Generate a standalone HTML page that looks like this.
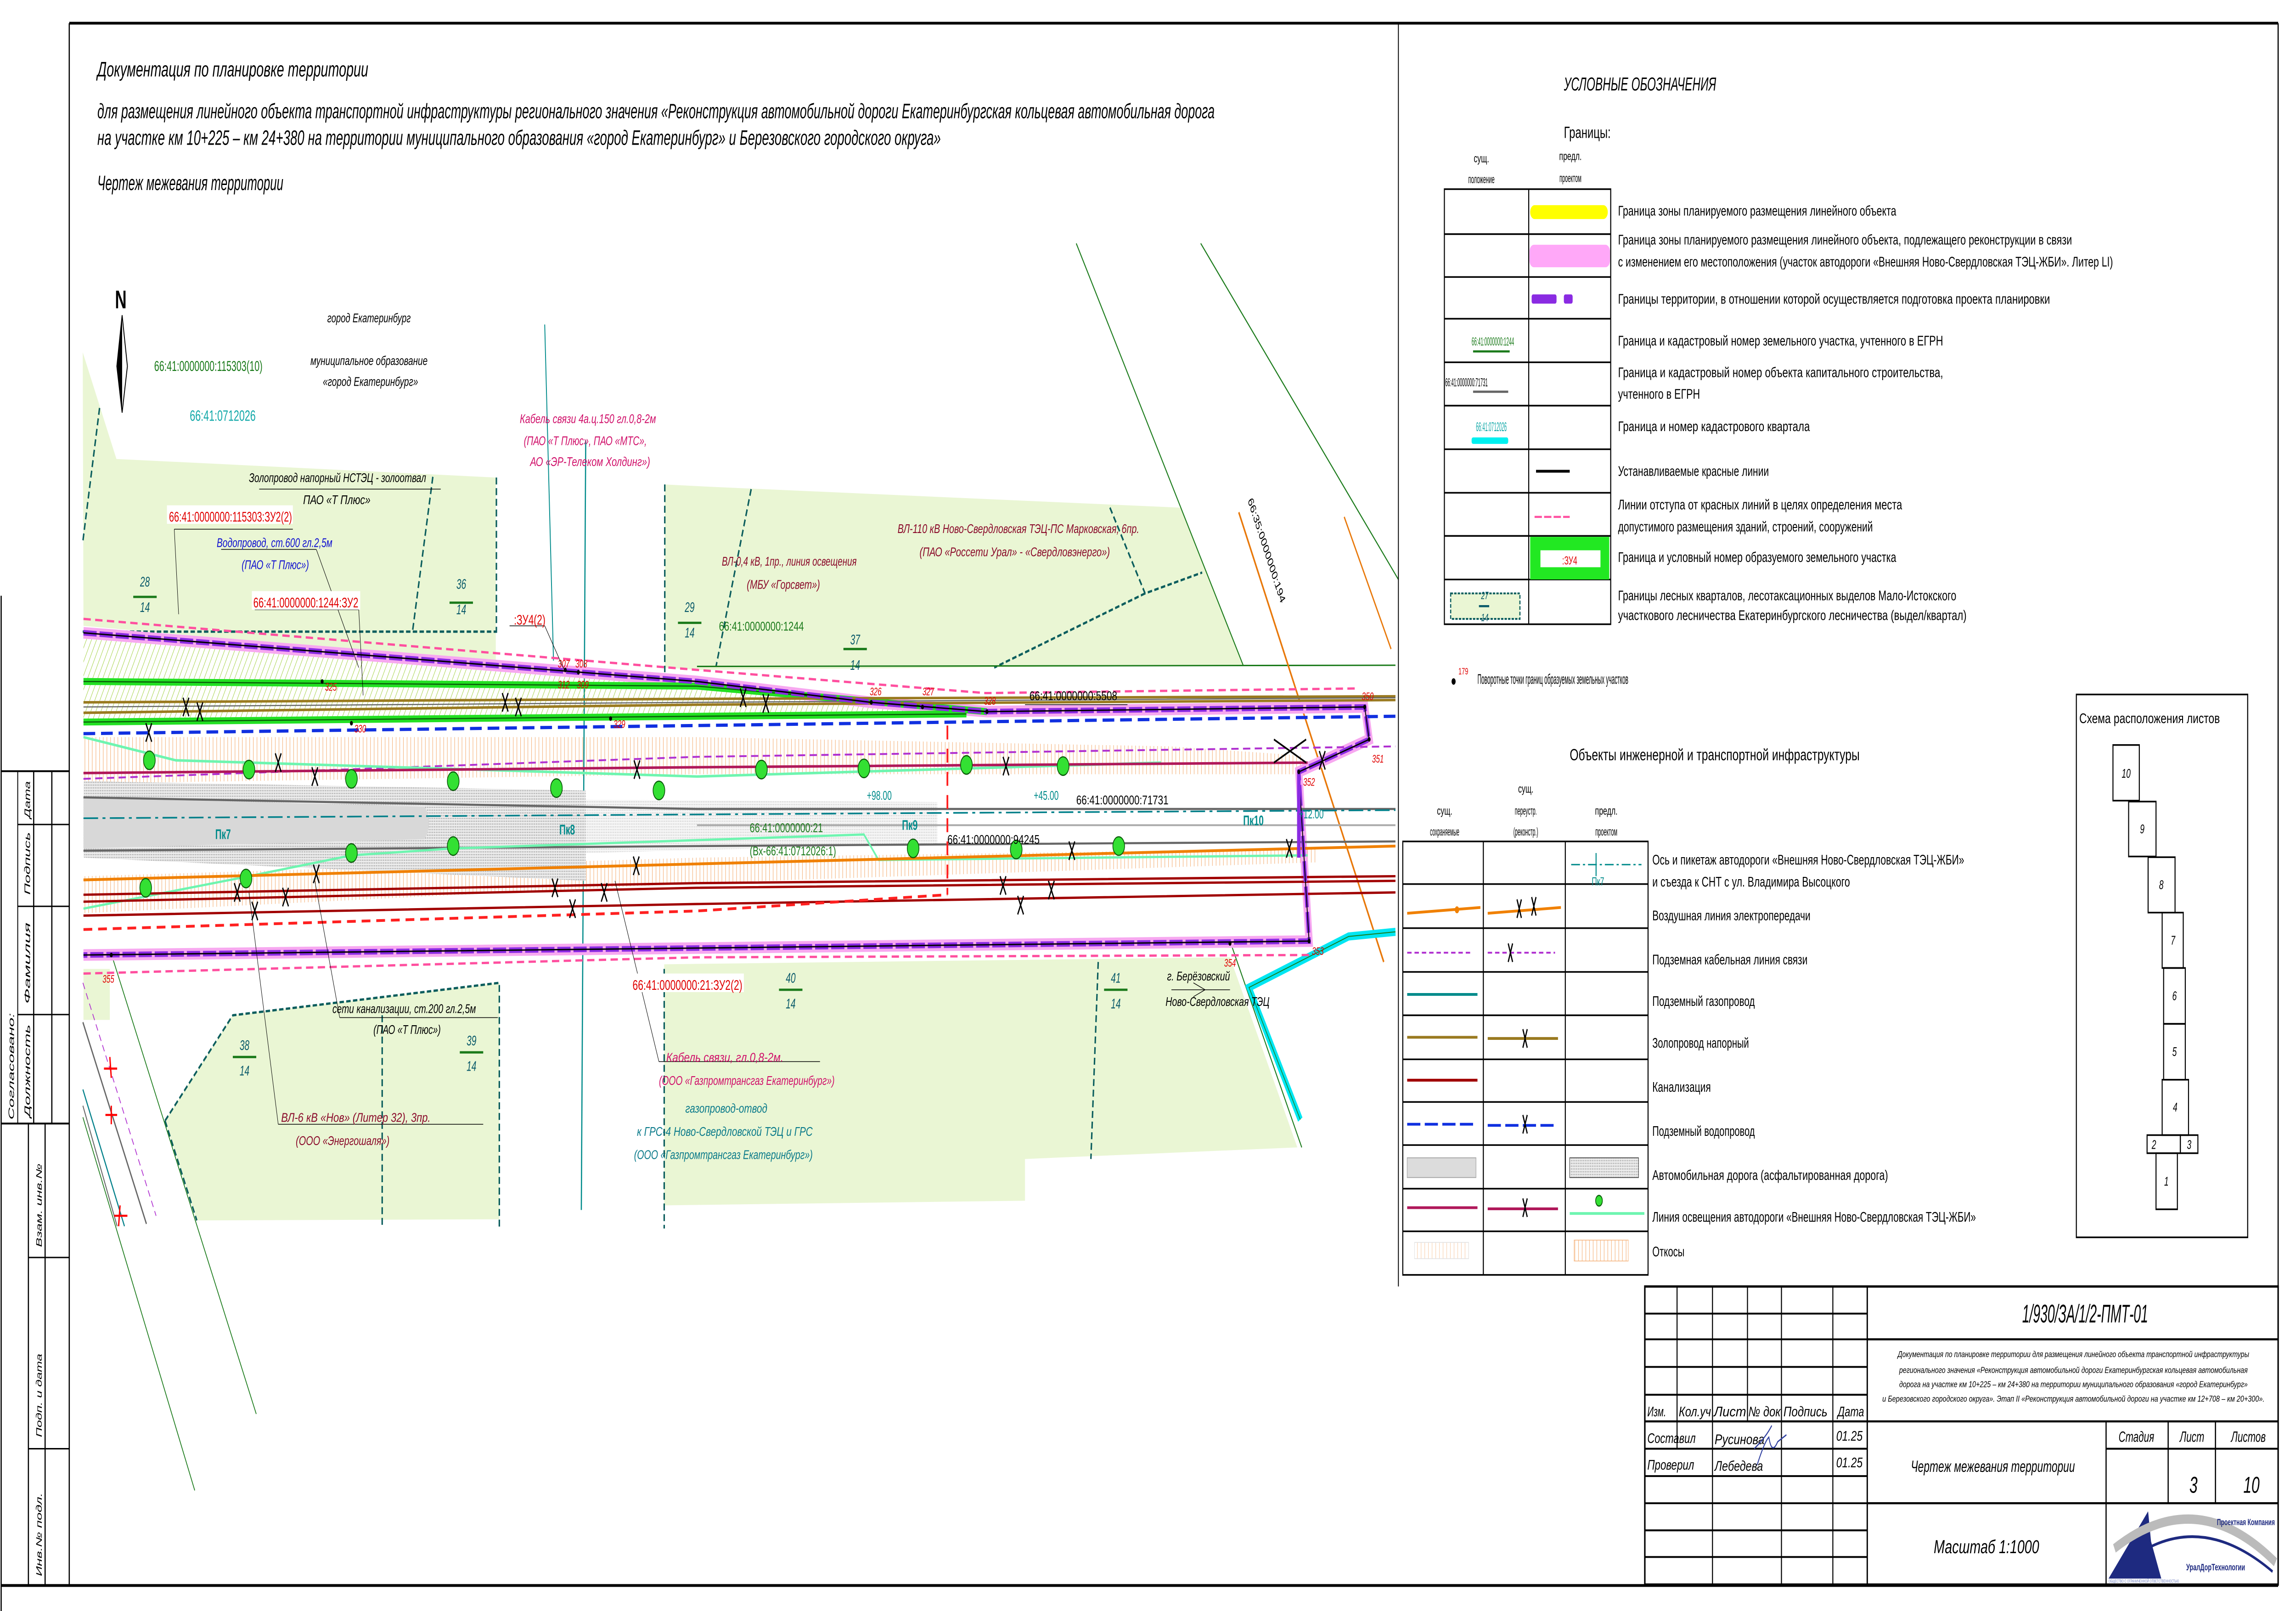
<!DOCTYPE html>
<html><head><meta charset="utf-8"><style>
html,body{margin:0;padding:0;background:#fff;width:100vw;height:100vh;overflow:hidden}
svg{display:block;width:100vw;height:100vh;position:absolute;left:0;top:0}
text{font-family:"Liberation Sans","DejaVu Sans",sans-serif;font-style:italic}
.n{font-style:normal}
</style></head><body>
<svg viewBox="0 0 1568 695" preserveAspectRatio="none" xmlns="http://www.w3.org/2000/svg">
<defs>
<pattern id="hat" width="3" height="3" patternUnits="userSpaceOnUse" patternTransform="rotate(30)"><line x1="0" y1="0" x2="0" y2="3" stroke="#9acd32" stroke-width="0.5"/></pattern>
<pattern id="dot" width="1.2" height="1.2" patternUnits="userSpaceOnUse"><rect width="1.2" height="1.2" fill="#eee"/><rect width="0.6" height="0.6" fill="#aaa"/></pattern>
<pattern id="slope" width="2.5" height="20" patternUnits="userSpaceOnUse"><line x1="0.5" y1="0" x2="0.5" y2="20" stroke="#f5b27a" stroke-width="0.35"/></pattern>
</defs>
<rect width="1568" height="695" fill="#fff"/>

<g fill="#eaf6d4">
<polygon points="56.5,152 79.5,198 338.6,206 338.6,286 57,270"/>
<polygon points="454,209 485,210 806,219 849,287 476,289 454,288"/>
<polygon points="112.7,483.5 159,438 341,424 341,526 134.4,526.5"/>
<polygon points="453.6,416 840,413 886,495 700,500 700,518 453.6,520"/>
<polygon points="57,418 75,418 75,440 57,440"/>
</g>
<g fill="none" stroke="#0b5d5d" stroke-width="1" stroke-dasharray="3 1.6">
<polyline points="68,176 56.5,234"/>
<polyline points="295.6,205.7 281.6,273"/>
<polyline points="56.5,272.5 339,272.5"/>
<polyline points="339,206 339,273"/>
<polyline points="454,209 454,290"/>
<polyline points="513,211 489,287.5"/>
<polyline points="758,219 782,256 821,247"/>
<polyline points="782,256 679,288"/>
<polyline points="112.7,483.5 159,438 341,424 341,530"/>
<polyline points="112.7,483.5 134.4,526.5"/>
<polyline points="261,438 261,530"/>
<polyline points="453.6,418 453.6,530"/>
<polyline points="750,415 745,500"/>
</g>

<g fill="none">
<line x1="735" y1="105" x2="849" y2="287" stroke="#1a7a1a" stroke-width="0.6"/>
<line x1="820" y1="105" x2="955" y2="250" stroke="#1a7a1a" stroke-width="0.6"/>
<line x1="476" y1="287.5" x2="953" y2="287" stroke="#1a7a1a" stroke-width="0.6"/>
<line x1="846" y1="221" x2="945" y2="415" stroke="#e8780a" stroke-width="1"/>
<line x1="918" y1="223" x2="950" y2="280" stroke="#e8780a" stroke-width="0.8"/>
<line x1="840" y1="406" x2="889" y2="495" stroke="#1a7a1a" stroke-width="0.6"/>
<polyline points="888,483 853,426 921,404 953,402" stroke="#00e6f2" stroke-width="3.5"/>
<polyline points="888,483 853,426 921,404 953,402" stroke="#1a7a1a" stroke-width="0.4"/>
<line x1="400" y1="190" x2="397" y2="522" stroke="#008b8b" stroke-width="0.8"/>
<line x1="372" y1="140" x2="378" y2="285" stroke="#008b8b" stroke-width="0.6"/>
</g>
<text x="852" y="216" font-size="5.5" fill="#000" class="n" transform="rotate(63 852 216)" textLength="50" lengthAdjust="spacingAndGlyphs">66:35:0000000:194</text>

<g fill="none">
<line x1="56.6" y1="441" x2="100" y2="528" stroke="#666" stroke-width="0.8"/>
<line x1="56.6" y1="470" x2="85" y2="529" stroke="#00808a" stroke-width="0.7"/>
<line x1="56.6" y1="477" x2="80" y2="529" stroke="#666" stroke-width="0.6"/>
<line x1="56.6" y1="482" x2="133" y2="643" stroke="#1a7a1a" stroke-width="0.5"/>
<line x1="77" y1="413.5" x2="175" y2="610" stroke="#1a7a1a" stroke-width="0.5"/>
<line x1="56.6" y1="424" x2="106.6" y2="524.5" stroke="#b030d0" stroke-width="0.5" stroke-dasharray="3 2"/>
<g stroke="#f00" stroke-width="0.9"><path d="M71,461h9M75,456l1,9M72,481h8M76,477l0,8M78,524.5h9M82,520l-1,9"/></g>
</g>

<polygon points="57,273 476,294 674,307 476,309 57,312" fill="url(#hat)"/>
<polygon points="57,318 476,318 800,322 890,326 890,334 476,334 57,338" fill="url(#slope)"/>
<polygon points="57,378 476,370 900,366 900,372 476,381 57,394" fill="url(#slope)"/>
<polygon points="57,337 400,341 400,380 57,370" fill="url(#dot)"/>
<path d="M57,344 L290,348 Q296,355 290,362 L57,366Z" fill="#d8d8d8"/>
<polygon points="400,345 640,346 640,364 400,368" fill="url(#dot)" opacity="0.5"/>
<g fill="none">
<polyline points="57,267 476,289 673,299 928,297" stroke="#ff4f9f" stroke-width="1" stroke-dasharray="5 3"/>
<polyline points="57,420 476,413 894,412" stroke="#ff4f9f" stroke-width="1" stroke-dasharray="5 3"/>
<polyline points="57,273 476,294 595,303 674,307 932,305 935,319 887,333 894,406 476,409 57,412" stroke="#f7a8f0" stroke-width="5"/>
<polyline points="57,294 476,296 674,307" stroke="#22e022" stroke-width="3"/>
<polyline points="57,311.5 476,309 660,308" stroke="#22e022" stroke-width="3"/>
<polyline points="57,294 476,296 674,307" stroke="#0a5a0a" stroke-width="0.5"/>
<polyline points="57,311.5 476,309 660,308" stroke="#0a5a0a" stroke-width="0.5"/>
<polyline points="57,303 476,301.5 953,300.4" stroke="#9a7a20" stroke-width="1.1"/>
<polyline points="57,307.5 476,304 953,302" stroke="#9a7a20" stroke-width="1.1"/>
<polyline points="57,305 476,303 953,301" stroke="#666" stroke-width="0.5"/>
<polyline points="57,316.5 476,313 953,309" stroke="#1030e0" stroke-width="1.4" stroke-dasharray="8 4"/>
<polyline points="57,336 476,326.5 953,322" stroke="#b030d0" stroke-width="0.8" stroke-dasharray="5 3"/>
<polyline points="57,318 120,328 476,335 793,329" stroke="#6ef5b0" stroke-width="1.1"/>
<polyline points="57,333.5 476,331 893,329" stroke="#b0185a" stroke-width="1.1"/>
<polyline points="57,344 476,349 953,349" stroke="#666" stroke-width="0.9"/>
<polyline points="476,356 953,356" stroke="#aaa" stroke-width="0.8"/>
<polyline points="57,367 476,365 953,363" stroke="#666" stroke-width="0.9"/>
<polyline points="57,353 953,349.5" stroke="#00808a" stroke-width="0.7" stroke-dasharray="10 3 2 3"/>
<polyline points="57,392 170,378 240,369 310,366 590,360 600,371 893,369" stroke="#6ef5b0" stroke-width="1"/>
<polyline points="57,379.6 476,372.7 953,365" stroke="#f08000" stroke-width="1.2"/>
<polyline points="57,386 476,381 953,378" stroke="#a00000" stroke-width="1"/>
<polyline points="57,389 476,383 953,380" stroke="#a00000" stroke-width="1"/>
<polyline points="57,395 476,390 953,385" stroke="#a00000" stroke-width="1"/>
<polyline points="57,401 476,393 647,386" stroke="#ff2020" stroke-width="1.2" stroke-dasharray="6 4"/>
<line x1="647" y1="313" x2="647" y2="386" stroke="#ff2020" stroke-width="1.2" stroke-dasharray="6 4"/>
<polyline points="57,273 476,294 595,303 674,307 932,305 935,319 887,333 894,406 476,409 57,412" stroke="#8a2be2" stroke-width="2.4" stroke-dasharray="9 2"/>
<polyline points="57,273 476,294 595,303 674,307 932,305 935,319 887,333 894,406 476,409 57,412" stroke="#000" stroke-width="0.6"/>
<line x1="887" y1="333" x2="887" y2="370" stroke="#8a2be2" stroke-width="2.4"/>
</g>
<g fill="#000"><circle cx="220" cy="294" r="1"/><circle cx="240" cy="312" r="1"/><circle cx="417" cy="310" r="1"/><circle cx="386" cy="289" r="1"/><circle cx="395" cy="290" r="1"/><circle cx="595" cy="303" r="1"/><circle cx="630" cy="305" r="1"/><circle cx="674" cy="307" r="1"/><circle cx="932" cy="305" r="1"/><circle cx="935" cy="319" r="1"/><circle cx="887" cy="333" r="1"/><circle cx="894" cy="406" r="1"/><circle cx="840" cy="407" r="1"/><circle cx="76" cy="412" r="1"/></g>
<g fill="#e00000" font-size="4.8" class="n">
<text x="222" y="298">325</text><text x="242" y="316">330</text><text x="419" y="314">329</text>
<text x="381" y="288">307</text><text x="393" y="288">308</text><text x="381" y="297">312</text><text x="394" y="297">309</text>
<text x="594" y="300">326</text><text x="630" y="300">327</text><text x="672" y="304">328</text>
<text x="930" y="302">350</text><text x="937" y="329">351</text><text x="890" y="339">352</text>
<text x="896" y="412">353</text><text x="836" y="417">354</text><text x="70" y="424">355</text>
</g>

<g stroke="#0a5a0a" stroke-width="0.5" fill="#33e033">
<circle cx="102" cy="328" r="4"/><circle cx="170" cy="332" r="4"/><circle cx="240" cy="336" r="4"/><circle cx="309.5" cy="337" r="4"/><circle cx="380" cy="340" r="4"/><circle cx="450" cy="341" r="4"/>
<circle cx="520" cy="332" r="4"/><circle cx="590" cy="331.5" r="4"/><circle cx="660" cy="330" r="4"/><circle cx="726" cy="330.5" r="4"/>
<circle cx="99.5" cy="383" r="4"/><circle cx="168" cy="379" r="4"/><circle cx="240" cy="368" r="4"/><circle cx="309.5" cy="365" r="4"/>
<circle cx="623.6" cy="366" r="4"/><circle cx="694" cy="366.5" r="4"/><circle cx="764" cy="365" r="4"/>
</g>
<g stroke="#000" stroke-width="0.8" fill="none">
<path d="M125,301l4,8M129,301l-4,8M134.5,303l4,8M138.5,303l-4,8M343,299l4,8M347,299l-4,8M352,301l4,8M356,301l-4,8M505.5,297l4,8M509.5,297l-4,8M521,299.5l4,8M525,299.5l-4,8"/>
<path d="M99.6,312l4,8M103.6,312l-4,8M188,325l4,8M192,325l-4,8M213,331l4,8M217,331l-4,8M433,328l4,8M437,328l-4,8M685,326.5l4,8M689,326.5l-4,8"/>
<path d="M214,373l4,8M218,373l-4,8M160,381l4,8M164,381l-4,8M172,389l4,8M176,389l-4,8M193,383l4,8M197,383l-4,8M377,379l4,8M381,379l-4,8M389,388l4,8M393,388l-4,8M410.6,381l4,8M414.6,381l-4,8M432.5,369.5l4,8M436.5,369.5l-4,8"/>
<path d="M683,378l4,8M687,378l-4,8M695,386.5l4,8M699,386.5l-4,8M716,380l4,8M720,380l-4,8M730,363l4,8M734,363l-4,8M878.5,362l4,8M882.5,362l-4,8M901,324l4,8M905,324l-4,8M870,319l22,10M892,319l-22,10"/>
</g>

<text x="78.5" y="133" font-size="11" font-weight="bold" class="n" font-family="Liberation Serif">N</text>
<polygon points="83.4,136 87,158 83.4,178 79.8,158" fill="#fff" stroke="#000" stroke-width="0.6"/>
<polygon points="83.4,136 83.4,178 79.8,158" fill="#000"/>

<g fill="#000">
<text x="252" y="139" font-size="5.5" text-anchor="middle" textLength="57" lengthAdjust="spacingAndGlyphs">город Екатеринбург</text>
<text x="252" y="157.5" font-size="5.5" text-anchor="middle" textLength="80" lengthAdjust="spacingAndGlyphs">муниципальное образование</text>
<text x="253" y="166.5" font-size="5.5" text-anchor="middle" textLength="65" lengthAdjust="spacingAndGlyphs">«город Екатеринбург»</text>
<text x="170" y="208" font-size="5.5" textLength="121" lengthAdjust="spacingAndGlyphs">Золопровод напорный НСТЭЦ - золоотвал</text>
<text x="230" y="217.5" font-size="5.5" text-anchor="middle" textLength="46" lengthAdjust="spacingAndGlyphs">ПАО «Т Плюс»</text>
<text x="227" y="437" font-size="5.5" textLength="98" lengthAdjust="spacingAndGlyphs">сети канализации, ст.200 гл.2,5м</text>
<text x="255" y="446" font-size="5.5" textLength="46" lengthAdjust="spacingAndGlyphs">(ПАО «Т Плюс»)</text>
<text x="797" y="423" font-size="5.5" textLength="43" lengthAdjust="spacingAndGlyphs">г. Берёзовский</text>
<text x="796" y="434" font-size="5.5" textLength="71" lengthAdjust="spacingAndGlyphs">Ново-Свердловская ТЭЦ</text>
<text x="703" y="302" font-size="5.5" class="n" textLength="60" lengthAdjust="spacingAndGlyphs">66:41:0000000:5508</text>
<text x="735" y="347" font-size="5.5" class="n" textLength="63" lengthAdjust="spacingAndGlyphs">66:41:0000000:71731</text>
<text x="647" y="364" font-size="5.5" class="n" textLength="63" lengthAdjust="spacingAndGlyphs">66:41:0000000:94245</text>
</g>
<g stroke="#000" stroke-width="0.3" fill="none">
<path d="M177,211H301M119,228.3H200M151,237H216M174,263H245M348,270H372M232,439H340M190,485H330M450,458H560M700,304H770M800,427H840M815,424l8,3l-8,3"/>
<path d="M119,228.3L122,265M216,237L245,288M245,263L248,300M372,270L386,290M232,439L215,380M190,485L170,385M450,458L420,380"/>
</g>
<g fill="#e00000">
<rect x="114" y="218" width="86" height="8" fill="#fff"/>
<text x="115.4" y="225" font-size="6" class="n" textLength="84" lengthAdjust="spacingAndGlyphs">66:41:0000000:115303:ЗУ2(2)</text>
<rect x="172" y="255" width="74" height="8" fill="#fff"/>
<text x="173" y="262" font-size="6" class="n" textLength="71.7" lengthAdjust="spacingAndGlyphs">66:41:0000000:1244:ЗУ2</text>
<text x="351" y="269.5" font-size="6" class="n" textLength="21.5" lengthAdjust="spacingAndGlyphs">:ЗУ4(2)</text>
<rect x="431" y="420" width="77" height="8" fill="#fff"/>
<text x="432" y="427" font-size="6" class="n" textLength="75" lengthAdjust="spacingAndGlyphs">66:41:0000000:21:ЗУ2(2)</text>
</g>
<g fill="#1a7a1a" class="n">
<text x="105.3" y="160" font-size="6.2" class="n" textLength="74" lengthAdjust="spacingAndGlyphs">66:41:0000000:115303(10)</text>
<text x="491" y="272" font-size="5.5" class="n" textLength="58" lengthAdjust="spacingAndGlyphs">66:41:0000000:1244</text>
<text x="512" y="359" font-size="5.5" class="n" textLength="50" lengthAdjust="spacingAndGlyphs">66:41:0000000:21</text>
<text x="512" y="369" font-size="5.5" class="n" textLength="59" lengthAdjust="spacingAndGlyphs">(Вх-66:41:0712026:1)</text>
</g>
<text x="129.6" y="181.5" font-size="6.5" fill="#10a8a8" class="n" textLength="45" lengthAdjust="spacingAndGlyphs">66:41:0712026</text>
<g fill="#0a5a6a" font-family="Liberation Serif">
<text x="147" y="362" font-size="6" class="n" font-weight="bold" fill="#008b8b">Пк7</text>
<text x="382" y="360" font-size="6" class="n" font-weight="bold" fill="#008b8b">Пк8</text>
<text x="616" y="358" font-size="6" class="n" font-weight="bold" fill="#008b8b">Пк9</text>
<text x="849" y="356" font-size="6" class="n" font-weight="bold" fill="#008b8b">Пк10</text>
<text x="592" y="345" font-size="5.5" class="n" fill="#008b8b">+98.00</text>
<text x="706" y="345" font-size="5.5" class="n" fill="#008b8b">+45.00</text>
<text x="887" y="353" font-size="5.5" class="n" fill="#008b8b">+12.00</text>
</g>
<g fill="#0a5a6a" font-size="6" text-anchor="middle">
<text x="99" y="253">28</text><text x="99" y="264">14</text>
<text x="315" y="254">36</text><text x="315" y="265">14</text>
<text x="471" y="264">29</text><text x="471" y="275">14</text>
<text x="584" y="278">37</text><text x="584" y="289">14</text>
<text x="167" y="453">38</text><text x="167" y="464">14</text>
<text x="322" y="451">39</text><text x="322" y="462">14</text>
<text x="540" y="424">40</text><text x="540" y="435">14</text>
<text x="762" y="424">41</text><text x="762" y="435">14</text>
</g>
<g stroke="#1a7a1a" stroke-width="1"><path d="M91,257.5h16M307,260h16M463,268.7h16M576,280h16M159,456h16M314,454h16M532,427h16M754,427h16"/></g>
<g fill="#8a0a2a" font-size="5.5">
<text x="493" y="244" textLength="92" lengthAdjust="spacingAndGlyphs">ВЛ-0,4 кВ, 1пр., линия освещения</text>
<text x="510" y="254" textLength="50" lengthAdjust="spacingAndGlyphs">(МБУ «Горсвет»)</text>
<text x="613" y="230" textLength="165" lengthAdjust="spacingAndGlyphs">ВЛ-110 кВ Ново-Свердловская ТЭЦ-ПС Марковская, 6пр.</text>
<text x="628" y="240" textLength="130" lengthAdjust="spacingAndGlyphs">(ПАО «Россети Урал» - «Свердловэнерго»)</text>
<text x="192" y="484" textLength="102" lengthAdjust="spacingAndGlyphs">ВЛ-6 кВ «Нов» (Литер 32), 3пр.</text>
<text x="202" y="494" textLength="64" lengthAdjust="spacingAndGlyphs">(ООО «Энергошаля»)</text>
</g>
<g fill="#d0106a" font-size="5.5">
<text x="355" y="182.5" textLength="93" lengthAdjust="spacingAndGlyphs">Кабель связи 4а.ц.150 гл.0,8-2м</text>
<text x="357.7" y="192" textLength="84" lengthAdjust="spacingAndGlyphs">(ПАО «Т Плюс», ПАО «МТС»,</text>
<text x="362" y="201" textLength="82" lengthAdjust="spacingAndGlyphs">АО «ЭР-Телеком Холдинг»)</text>
<text x="455" y="458" textLength="80" lengthAdjust="spacingAndGlyphs">Кабель связи, гл.0,8-2м.</text>
<text x="450" y="468" textLength="120" lengthAdjust="spacingAndGlyphs">(ООО «Газпромтрансгаз Екатеринбург»)</text>
</g>
<g fill="#1010d0" font-size="5.5">
<text x="148" y="236" textLength="79" lengthAdjust="spacingAndGlyphs">Водопровод, ст.600 гл.2,5м</text>
<text x="165" y="245.5" textLength="46" lengthAdjust="spacingAndGlyphs">(ПАО «Т Плюс»)</text>
</g>
<g fill="#0a7a8a" font-size="5.5">
<text x="468" y="480" textLength="56" lengthAdjust="spacingAndGlyphs">газопровод-отвод</text>
<text x="435" y="490" textLength="120" lengthAdjust="spacingAndGlyphs">к ГРС-4 Ново-Свердловской ТЭЦ и ГРС</text>
<text x="433" y="500" textLength="122" lengthAdjust="spacingAndGlyphs">(ООО «Газпромтрансгаз Екатеринбург»)</text>
</g>

<g fill="#000" font-size="9">
<text x="66.5" y="33" textLength="185" lengthAdjust="spacingAndGlyphs">Документация по планировке территории</text>
<text x="66.5" y="51" textLength="763" lengthAdjust="spacingAndGlyphs">для размещения линейного объекта транспортной инфраструктуры регионального значения «Реконструкция автомобильной дороги Екатеринбургская кольцевая автомобильная дорога</text>
<text x="66.5" y="62.5" textLength="576" lengthAdjust="spacingAndGlyphs">на участке км 10+225 – км 24+380 на территории муниципального образования «город Екатеринбург» и Березовского городского округа»</text>
<text x="66.5" y="82" textLength="127" lengthAdjust="spacingAndGlyphs">Чертеж межевания территории</text>
</g>

<g fill="none" stroke="#000">
<line x1="47.3" y1="10" x2="1555.8" y2="10" stroke-width="1.2"/>
<line x1="47.3" y1="10" x2="47.3" y2="684" stroke-width="0.8"/>
<line x1="1555.8" y1="10" x2="1555.8" y2="684" stroke-width="0.8"/>
<line x1="0.8" y1="684" x2="1555.8" y2="684" stroke-width="1.2"/>
<line x1="955" y1="10" x2="955" y2="555" stroke-width="0.6"/>
<line x1="0.8" y1="257" x2="0.8" y2="695" stroke-width="0.8"/>
<line x1="0.8" y1="332.7" x2="47.3" y2="332.7" stroke-width="0.8"/>
<line x1="0.8" y1="484.7" x2="47.3" y2="484.7" stroke-width="0.8"/>
<line x1="12.1" y1="332.7" x2="12.1" y2="484.7" stroke-width="0.6"/>
<line x1="23" y1="332.7" x2="23" y2="484.7" stroke-width="0.8"/>
<line x1="35.4" y1="332.7" x2="35.4" y2="484.7" stroke-width="0.8"/>
<path d="M12.1,355.7H47.3M12.1,391H47.3M12.1,437.7H47.3" stroke-width="0.6"/>
<line x1="19.4" y1="484.7" x2="19.4" y2="684" stroke-width="0.8"/>
<line x1="30.8" y1="484.7" x2="30.8" y2="684" stroke-width="0.8"/>
<path d="M19.4,542.5H47.3M19.4,625H47.3" stroke-width="0.6"/>
</g>
<g fill="#000" font-size="5.5">
<text transform="translate(9.5,483) rotate(-90)" textLength="46" lengthAdjust="spacingAndGlyphs">Согласовано:</text>
<text transform="translate(20.5,482) rotate(-90)" textLength="40" lengthAdjust="spacingAndGlyphs">Должность</text>
<text transform="translate(20.5,433) rotate(-90)" textLength="35" lengthAdjust="spacingAndGlyphs">Фамилия</text>
<text transform="translate(20.5,386) rotate(-90)" textLength="27" lengthAdjust="spacingAndGlyphs">Подпись</text>
<text transform="translate(20.5,353) rotate(-90)" textLength="16" lengthAdjust="spacingAndGlyphs">Дата</text>
<text transform="translate(28.5,538) rotate(-90)" textLength="36" lengthAdjust="spacingAndGlyphs">Взам. инв.№</text>
<text transform="translate(28.5,620) rotate(-90)" textLength="36" lengthAdjust="spacingAndGlyphs">Подп. и дата</text>
<text transform="translate(28.5,680) rotate(-90)" textLength="36" lengthAdjust="spacingAndGlyphs">Инв.№ подл.</text>
</g>

<text x="1068" y="39" font-size="8" textLength="104" lengthAdjust="spacingAndGlyphs">УСЛОВНЫЕ ОБОЗНАЧЕНИЯ</text>
<text x="1068" y="59.5" font-size="7" class="n" textLength="32" lengthAdjust="spacingAndGlyphs">Границы:</text>
<g font-size="5" text-anchor="middle" class="n">
<text x="1011.7" y="70" class="n">сущ.</text><text x="1011.7" y="79" class="n" textLength="18" lengthAdjust="spacingAndGlyphs">положение</text>
<text x="1072.5" y="69" class="n">предл.</text><text x="1072.5" y="78.5" class="n" textLength="15" lengthAdjust="spacingAndGlyphs">проектом</text>
</g>
<g fill="none" stroke="#000" stroke-width="0.7">
<rect x="986.4" y="81.6" width="113.6" height="187.7"/>
<line x1="1044" y1="81.6" x2="1044" y2="269.3"/>
<path d="M986.4,101H1100M986.4,119.5H1100M986.4,137.5H1100M986.4,156.3H1100M986.4,175H1100M986.4,193.8H1100M986.4,212.6H1100M986.4,231.2H1100M986.4,250H1100"/>
</g>
<rect x="1045" y="88.5" width="53" height="6" rx="3" fill="#ffff00"/>
<rect x="1044.5" y="105.6" width="55" height="9.7" rx="3" fill="#ffa8f8"/>
<rect x="1046" y="127" width="17" height="4" rx="1" fill="#8a2be2"/><rect x="1068" y="127" width="6" height="4" rx="1" fill="#8a2be2"/>
<text x="1005" y="149" font-size="5" fill="#1a7a1a" class="n" textLength="29" lengthAdjust="spacingAndGlyphs">66:41:0000000:1244</text>
<line x1="1006" y1="151.6" x2="1031" y2="151.6" stroke="#1a7a1a" stroke-width="0.9"/>
<text x="987" y="166.7" font-size="5" class="n" textLength="29" lengthAdjust="spacingAndGlyphs">66:41:0000000:71731</text>
<line x1="1006" y1="169" x2="1030" y2="169" stroke="#666" stroke-width="1"/>
<text x="1008" y="186" font-size="5.5" fill="#10a8a8" class="n" textLength="21" lengthAdjust="spacingAndGlyphs">66:41:0712026</text>
<rect x="1005" y="188.7" width="25" height="2.8" rx="1" fill="#00f0f0"/>
<line x1="1049" y1="203.3" x2="1072" y2="203.3" stroke="#000" stroke-width="1.2"/>
<line x1="1048" y1="223" x2="1072" y2="223" stroke="#ff50a0" stroke-width="0.9" stroke-dasharray="5 1.5"/>
<rect x="1045" y="231.6" width="54" height="18.4" fill="#22e822"/>
<rect x="1052" y="237.4" width="41" height="7.3" fill="#fff"/>
<text x="1072" y="243.5" font-size="5" fill="#e00000" text-anchor="middle" class="n">:ЗУ4</text>
<rect x="990.7" y="256" width="47.3" height="11" fill="#eaf6d4" stroke="#0b5d5d" stroke-width="0.8" stroke-dasharray="1.6 0.8"/>
<text x="1014" y="258.5" font-size="4.5" fill="#0a5a6a" text-anchor="middle">27</text>
<line x1="1010" y1="261.5" x2="1017" y2="261.5" stroke="#0a5a6a" stroke-width="0.9"/>
<text x="1014" y="268" font-size="4.5" fill="#0a5a6a" text-anchor="middle">14</text>
<g font-size="6" class="n" fill="#000">
<text x="1105" y="93" class="n" textLength="190" lengthAdjust="spacingAndGlyphs">Граница зоны планируемого размещения линейного объекта</text>
<text x="1105" y="105.5" class="n" textLength="310" lengthAdjust="spacingAndGlyphs">Граница зоны планируемого размещения линейного объекта, подлежащего реконструкции в связи</text>
<text x="1105" y="115" class="n" textLength="338" lengthAdjust="spacingAndGlyphs">с изменением его местоположения (участок автодороги «Внешняя Ново-Свердловская ТЭЦ-ЖБИ». Литер LI)</text>
<text x="1105" y="131" class="n" textLength="295" lengthAdjust="spacingAndGlyphs">Границы территории, в отношении которой осуществляется подготовка проекта планировки</text>
<text x="1105" y="149" class="n" textLength="222" lengthAdjust="spacingAndGlyphs">Граница и кадастровый номер земельного участка, учтенного в ЕГРН</text>
<text x="1105" y="162.7" class="n" textLength="222" lengthAdjust="spacingAndGlyphs">Граница и кадастровый номер объекта капитального строительства,</text>
<text x="1105" y="172" class="n" textLength="56" lengthAdjust="spacingAndGlyphs">учтенного в ЕГРН</text>
<text x="1105" y="186" class="n" textLength="131" lengthAdjust="spacingAndGlyphs">Граница и номер кадастрового квартала</text>
<text x="1105" y="205.3" class="n" textLength="103" lengthAdjust="spacingAndGlyphs">Устанавливаемые красные линии</text>
<text x="1105" y="219.8" class="n" textLength="194" lengthAdjust="spacingAndGlyphs">Линии отступа от красных линий в целях определения места</text>
<text x="1105" y="229.3" class="n" textLength="174" lengthAdjust="spacingAndGlyphs">допустимого размещения зданий, строений, сооружений</text>
<text x="1105" y="242.4" class="n" textLength="190" lengthAdjust="spacingAndGlyphs">Граница и условный номер образуемого земельного участка</text>
<text x="1105" y="259" class="n" textLength="231" lengthAdjust="spacingAndGlyphs">Границы лесных кварталов, лесотаксационных выделов Мало-Истокского</text>
<text x="1105" y="267.5" class="n" textLength="238" lengthAdjust="spacingAndGlyphs">участкового лесничества Екатеринбургского лесничества (выдел/квартал)</text>
</g>
<circle cx="992.7" cy="294" r="1.4" fill="#000"/>
<text x="996" y="291" font-size="4" fill="#e00000" class="n">179</text>
<text x="1009" y="295" font-size="6" class="n" textLength="103" lengthAdjust="spacingAndGlyphs">Поворотные точки границ образуемых земельных участков</text>

<text x="1072" y="328" font-size="7" class="n" textLength="198" lengthAdjust="spacingAndGlyphs">Объекты инженерной и транспортной инфраструктуры</text>
<g font-size="5" text-anchor="middle" class="n">
<text x="986.6" y="351.5" class="n">сущ.</text><text x="986.6" y="360.5" class="n" textLength="20" lengthAdjust="spacingAndGlyphs">сохраняемые</text>
<text x="1042" y="342" class="n">сущ.</text><text x="1042" y="351.5" class="n" textLength="15" lengthAdjust="spacingAndGlyphs">переустр.</text><text x="1042" y="360.5" class="n" textLength="17" lengthAdjust="spacingAndGlyphs">(реконстр.)</text>
<text x="1097" y="351.5" class="n">предл.</text><text x="1097" y="360.5" class="n" textLength="15" lengthAdjust="spacingAndGlyphs">проектом</text>
</g>
<g fill="none" stroke="#000" stroke-width="0.7">
<rect x="958" y="363" width="167.5" height="187"/>
<line x1="1013" y1="363" x2="1013" y2="550"/><line x1="1069" y1="363" x2="1069" y2="550"/>
<path d="M958,381.4H1125.5M958,400.4H1125.5M958,419.3H1125.5M958,438H1125.5M958,457H1125.5M958,475.4H1125.5M958,494H1125.5M958,512.8H1125.5M958,531.2H1125.5"/>
</g>
<g fill="none">
<line x1="1073" y1="373" x2="1121" y2="373" stroke="#008b8b" stroke-width="0.6" stroke-dasharray="6 2 1.5 2"/>
<line x1="1090" y1="368" x2="1090" y2="378" stroke="#008b8b" stroke-width="0.7"/>
<line x1="961" y1="394" x2="1011" y2="391.5" stroke="#f08000" stroke-width="1.2"/>
<line x1="1016" y1="394" x2="1066" y2="391.5" stroke="#f08000" stroke-width="1.2"/>
<line x1="961" y1="411" x2="1006" y2="411" stroke="#b030d0" stroke-width="0.8" stroke-dasharray="3 2"/>
<line x1="1016" y1="411" x2="1062" y2="411" stroke="#b030d0" stroke-width="0.8" stroke-dasharray="3 2"/>
<line x1="961" y1="429" x2="1009" y2="429" stroke="#008b8b" stroke-width="1.2"/>
<line x1="961" y1="447.5" x2="1009" y2="447.5" stroke="#9a7a20" stroke-width="1.2"/>
<line x1="1016" y1="448" x2="1064" y2="448" stroke="#9a7a20" stroke-width="1.2"/>
<line x1="961" y1="466" x2="1009" y2="466" stroke="#a00000" stroke-width="1.2"/>
<line x1="961" y1="485" x2="1009" y2="485" stroke="#1030e0" stroke-width="1.2" stroke-dasharray="9 3"/>
<line x1="1016" y1="485.5" x2="1064" y2="485.5" stroke="#1030e0" stroke-width="1.2" stroke-dasharray="9 3"/>
<line x1="961" y1="521" x2="1009" y2="521" stroke="#b0185a" stroke-width="1.2"/>
<line x1="1016" y1="521.5" x2="1064" y2="521.5" stroke="#b0185a" stroke-width="1.2"/>
<line x1="1072" y1="523.5" x2="1123" y2="523.5" stroke="#6ef5b0" stroke-width="1.2"/>
<g stroke="#000" stroke-width="0.8"><path d="M1036,388l3,8M1039,388l-3,8M1046,387l3,8M1049,387l-3,8M1030,407l3,8M1033,407l-3,8M1040,444l3,8M1043,444l-3,8M1040,481l3,8M1043,481l-3,8M1040,517l3,8M1043,517l-3,8"/></g>
</g>
<text x="1087" y="382" font-size="5" fill="#008b8b" font-family="Liberation Serif" class="n">Пк7</text>
<circle cx="995" cy="392.5" r="1.5" fill="#f08000"/>
<rect x="961" y="499.5" width="47" height="8.5" fill="#dcdcdc" stroke="#aaa" stroke-width="0.4"/>
<rect x="1072" y="499.5" width="47" height="8.5" fill="url(#dot)" stroke="#555" stroke-width="0.4"/>
<circle cx="1092" cy="518" r="2.3" fill="#33e033" stroke="#0a5a0a" stroke-width="0.5"/>
<rect x="966" y="536" width="37" height="7" fill="url(#slope)" opacity="0.6" stroke="#ccc" stroke-width="0.3"/>
<rect x="1075" y="535" width="37" height="9" fill="url(#slope)" stroke="#f5b27a" stroke-width="0.3"/>
<g font-size="6" class="n">
<text x="1128.4" y="373" class="n" textLength="213" lengthAdjust="spacingAndGlyphs">Ось и пикетаж автодороги «Внешняя Ново-Свердловская ТЭЦ-ЖБИ»</text>
<text x="1128.4" y="382.5" class="n" textLength="135" lengthAdjust="spacingAndGlyphs">и съезда к СНТ с ул. Владимира Высоцкого</text>
<text x="1128.4" y="397" class="n" textLength="108" lengthAdjust="spacingAndGlyphs">Воздушная линия электропередачи</text>
<text x="1128.4" y="416" class="n" textLength="106" lengthAdjust="spacingAndGlyphs">Подземная кабельная линия связи</text>
<text x="1128.4" y="434" class="n" textLength="70" lengthAdjust="spacingAndGlyphs">Подземный газопровод</text>
<text x="1128.4" y="452" class="n" textLength="66" lengthAdjust="spacingAndGlyphs">Золопровод напорный</text>
<text x="1128.4" y="471" class="n" textLength="40" lengthAdjust="spacingAndGlyphs">Канализация</text>
<text x="1128.4" y="490" class="n" textLength="70" lengthAdjust="spacingAndGlyphs">Подземный водопровод</text>
<text x="1128.4" y="509" class="n" textLength="161" lengthAdjust="spacingAndGlyphs">Автомобильная дорога (асфальтированная дорога)</text>
<text x="1128.4" y="527" class="n" textLength="221" lengthAdjust="spacingAndGlyphs">Линия освещения автодороги «Внешняя Ново-Свердловская ТЭЦ-ЖБИ»</text>
<text x="1128.4" y="542" class="n" textLength="22" lengthAdjust="spacingAndGlyphs">Откосы</text>
</g>

<g fill="none" stroke="#000" stroke-width="0.7">
<rect x="1418" y="299.6" width="117" height="234.2"/>
<rect x="1443" y="321.4" width="18" height="24"/>
<rect x="1453.7" y="345.8" width="18.7" height="23.7"/>
<rect x="1467" y="369.8" width="18.4" height="23.9"/>
<rect x="1476.6" y="393.7" width="14.4" height="23.9"/>
<rect x="1477.6" y="417.6" width="14.8" height="24.1"/>
<rect x="1477.6" y="441.7" width="14.8" height="24.1"/>
<rect x="1476.6" y="465.8" width="18" height="23.9"/>
<rect x="1466.3" y="489.7" width="22.7" height="7.8"/>
<rect x="1489" y="489.7" width="12" height="7.8"/>
<rect x="1472.4" y="497.5" width="14.6" height="24.2"/>
</g>
<text x="1420" y="312" font-size="6" class="n" textLength="96" lengthAdjust="spacingAndGlyphs">Схема расположения листов</text>
<g font-size="5.5" text-anchor="middle">
<text x="1452" y="335.5">10</text><text x="1463" y="359.5">9</text><text x="1476" y="383.5">8</text><text x="1484" y="407.5">7</text><text x="1485" y="431.5">6</text><text x="1485" y="455.5">5</text><text x="1485.5" y="479.5">4</text><text x="1471" y="495.7">2</text><text x="1495" y="495.7">3</text><text x="1479.5" y="511.5">1</text>
</g>

<g fill="none" stroke="#000">
<rect x="1123.3" y="555" width="432.5" height="128.6" stroke-width="1"/>
<line x1="1275.2" y1="555" x2="1275.2" y2="683.6" stroke-width="0.9"/>
<line x1="1275.2" y1="577.8" x2="1555.8" y2="577.8" stroke-width="0.9"/>
<line x1="1123.3" y1="613.2" x2="1555.8" y2="613.2" stroke-width="0.9"/>
<line x1="1275.2" y1="648.5" x2="1555.8" y2="648.5" stroke-width="0.9"/>
<line x1="1438.3" y1="613.2" x2="1438.3" y2="683.6" stroke-width="0.8"/>
<line x1="1480.7" y1="613.2" x2="1480.7" y2="648.5" stroke-width="0.8"/>
<line x1="1513" y1="613.2" x2="1513" y2="648.5" stroke-width="0.8"/>
<line x1="1438.3" y1="625" x2="1555.8" y2="625" stroke-width="0.8"/>
<path d="M1123.3,566.7H1275.2M1123.3,577.8H1275.2M1123.3,589.7H1275.2M1123.3,601.7H1275.2M1123.3,625H1275.2M1123.3,636.8H1275.2M1123.3,648.5H1275.2M1123.3,660.2H1275.2M1123.3,671.7H1275.2" stroke-width="0.8"/>
<path d="M1145.3,555V625M1169.5,555V683.6M1193.4,555V613.2M1216.6,555V683.6M1251.7,555V683.6" stroke-width="0.7"/>
</g>
<g fill="#000">
<text x="1424" y="570.5" font-size="11" text-anchor="middle" textLength="86" lengthAdjust="spacingAndGlyphs">1/930/ЗА/1/2-ПМТ-01</text>
<g font-size="3.6" text-anchor="middle">
<text x="1416" y="585.5" textLength="240" lengthAdjust="spacingAndGlyphs">Документация по планировке территории для размещения линейного объекта транспортной инфраструктуры</text>
<text x="1416" y="592.3" textLength="238" lengthAdjust="spacingAndGlyphs">регионального значения «Реконструкция автомобильной дороги Екатеринбургская кольцевая автомобильная</text>
<text x="1416" y="598.4" textLength="238" lengthAdjust="spacingAndGlyphs">дорога на участке км 10+225 – км 24+380 на территории муниципального образования «город Екатеринбург»</text>
<text x="1416" y="604.7" textLength="261" lengthAdjust="spacingAndGlyphs">и Березовского городского округа». Этап II «Реконструкция автомобильной дороги на участке км 12+708 – км 20+300».</text>
</g>
<g font-size="6">
<text x="1125" y="611">Изм.</text><text x="1146.5" y="611" textLength="22" lengthAdjust="spacingAndGlyphs">Кол.уч</text><text x="1170.5" y="611" textLength="22" lengthAdjust="spacingAndGlyphs">Лист</text><text x="1194" y="611" textLength="22" lengthAdjust="spacingAndGlyphs">№ док</text><text x="1218" y="611" textLength="30" lengthAdjust="spacingAndGlyphs">Подпись</text><text x="1255" y="611" textLength="18" lengthAdjust="spacingAndGlyphs">Дата</text>
<text x="1125" y="622.5" textLength="33" lengthAdjust="spacingAndGlyphs">Составил</text><text x="1171" y="623" textLength="34" lengthAdjust="spacingAndGlyphs">Русинова</text><text x="1254" y="621.5" textLength="18" lengthAdjust="spacingAndGlyphs">01.25</text>
<text x="1125" y="634" textLength="32" lengthAdjust="spacingAndGlyphs">Проверил</text><text x="1171" y="634.5" textLength="33" lengthAdjust="spacingAndGlyphs">Лебедева</text><text x="1254" y="633" textLength="18" lengthAdjust="spacingAndGlyphs">01.25</text>
</g>
<text x="1361" y="635" font-size="7" text-anchor="middle" textLength="112" lengthAdjust="spacingAndGlyphs">Чертеж межевания территории</text>
<text x="1459" y="622" font-size="6.5" text-anchor="middle">Стадия</text>
<text x="1497" y="622" font-size="6.5" text-anchor="middle">Лист</text>
<text x="1535.5" y="622" font-size="6.5" text-anchor="middle">Листов</text>
<text x="1498" y="644" font-size="10" text-anchor="middle">3</text>
<text x="1537.6" y="644" font-size="10" text-anchor="middle">10</text>
<text x="1356.6" y="670" font-size="8" text-anchor="middle" textLength="72" lengthAdjust="spacingAndGlyphs">Масштаб 1:1000</text>
</g>
<path d="M1198,625 q8,-5 12,-10 M1200,632 q5,-10 8,-12 q2,8 6,2 l6,-3" stroke="#3040a0" stroke-width="0.6" fill="none"/>
<polygon points="1440,681 1467,652 1469,665 1476,681" fill="#1e2a80"/>
<path d="M1444,668 Q1500,640 1554,674" stroke="#bbb" stroke-width="4" fill="none"/>
<path d="M1452,674 Q1500,650 1552,678" stroke="#1e2a80" stroke-width="1.2" fill="none"/>
<text x="1514" y="658" font-size="3.8" fill="#1e2a80" font-weight="bold" class="n">Проектная Компания</text>
<text x="1493" y="677.5" font-size="4" fill="#1e2a80" font-weight="bold" class="n">УралДорТехнологии</text>
<text x="1440" y="682.7" font-size="1.8" fill="#7080c0" class="n">ОБЩЕСТВО С ОГРАНИЧЕННОЙ ОТВЕТСТВЕННОСТЬЮ</text>
</svg>
</body></html>
